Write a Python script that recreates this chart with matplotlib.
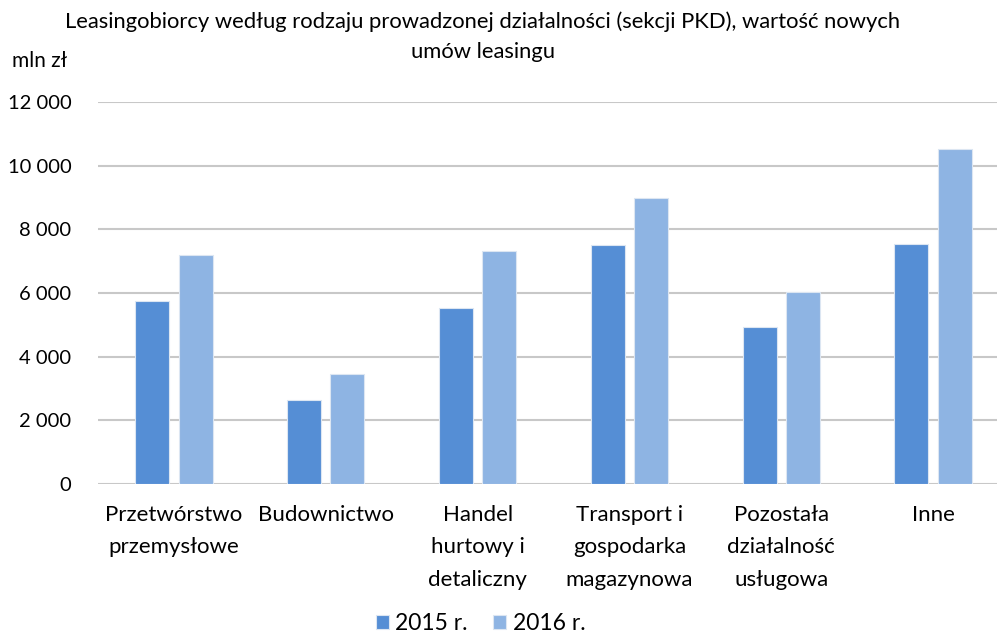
import matplotlib.pyplot as plt
import numpy as np

plt.rcParams['font.family'] = ['Lato', 'DejaVu Sans']

categories = ['Przetwórstwo\nprzemysłowe', 'Budownictwo', 'Handel\nhurtowy i\ndetaliczny',
              'Transport i\ngospodarka\nmagazynowa', 'Pozostała\ndziałalność\nusługowa', 'Inne']
v2015 = [5760, 2625, 5520, 7515, 4930, 7535]
v2016 = [7200, 3460, 7325, 9000, 6040, 10525]
series_names = ['2015 r.', '2016 r.']
yticks = [0, 2000, 4000, 6000, 8000, 10000, 12000]
ytick_labels = ['0', '2 000', '4 000', '6 000', '8 000', '10 000', '12 000']

c2015 = '#558ED5'
c2016 = '#8EB4E3'

fig = plt.figure(figsize=(9.97, 6.36), dpi=100)
ax = fig.add_axes([98 / 997, 1 - 484 / 636, 911 / 997, 382 / 636])

x = np.arange(len(categories))
w = 0.224
ax.bar(x - 0.143, v2015, w, color=c2015, edgecolor='#DCE6F2', linewidth=0.8, label=series_names[0], zorder=3)
ax.bar(x + 0.143, v2016, w, color=c2016, edgecolor='#DCE6F2', linewidth=0.8, label=series_names[1], zorder=3)

ax.set_xlim(-0.5, len(categories) - 0.5)
ax.set_ylim(0, 12000)
ax.set_yticks(yticks)
ax.set_yticklabels(ytick_labels, fontsize=14.5, color='#000000')
ax.set_xticks(x)
ax.set_xticklabels(categories, fontsize=16, linespacing=1.78, va='top')
ax.tick_params(length=0)
ax.tick_params(axis='y', pad=19)
ax.tick_params(axis='x', pad=15)
ax.grid(axis='y', color='#C8C8C8', linewidth=1.5, zorder=0)
for s in ax.spines.values():
    s.set_visible(False)

fig.text(0.484, 1 - 22 / 636, 'Leasingobiorcy według rodzaju prowadzonej działalności (sekcji PKD), wartość nowych',
         ha='center', va='center', fontsize=15.8)
fig.text(0.484, 1 - 52 / 636, 'umów leasingu', ha='center', va='center', fontsize=15.8)
fig.text(12 / 997, 1 - 61 / 636, 'mln zł', ha='left', va='center', fontsize=15)

fig.legend(loc='center', bbox_to_anchor=(0.482, 1 - 624 / 636), ncol=2, frameon=False,
           fontsize=16.5, handlelength=0.55, handleheight=0.55, handletextpad=0.3, columnspacing=1.1)

fig.savefig('out.png', dpi=100)
